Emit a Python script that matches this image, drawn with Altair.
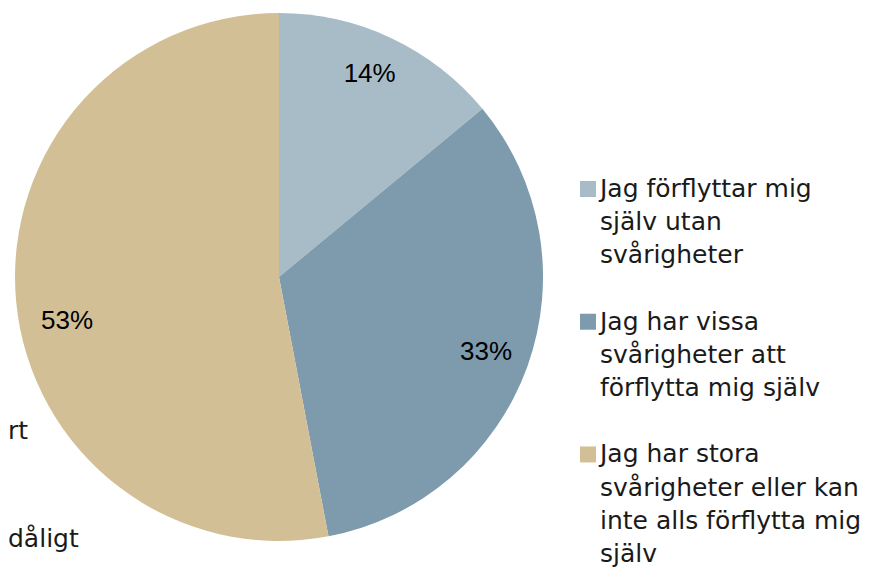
import altair as alt
import pandas as pd

categories = [
    "Jag förflyttar mig själv utan svårigheter",
    "Jag har vissa svårigheter att förflytta mig själv",
    "Jag har stora svårigheter eller kan inte alls förflytta mig själv",
]
values = [14, 33, 53]
labels = ["14%", "33%", "53%"]
colors = ["#A7BCC7", "#7D9BAC", "#D3BF95"]

legend_lines = [
    ["Jag förflyttar mig", "själv utan", "svårigheter"],
    ["Jag har vissa", "svårigheter att", "förflytta mig själv"],
    ["Jag har stora", "svårigheter eller kan", "inte alls förflytta mig", "själv"],
]
side_texts = ["rt", "dåligt"]
side_rows = [7.29, 10.54]

df = pd.DataFrame({"cat": categories, "val": values, "label": labels, "order": [0, 1, 2]})

rows = []
r = 0
for i, lines in enumerate(legend_lines):
    for j, t in enumerate(lines):
        rows.append({"row": r, "text": t, "first": j == 0, "cat": categories[i]})
        r += 1
    r += 1
leg = pd.DataFrame(rows)
leg_sym = leg[leg["first"]]

CX, CY, R = 271, 269, 264

color_scale = alt.Scale(domain=categories, range=colors)
theta_scale = alt.Scale(domain=[0, 100])

base = alt.Chart(df)

pie = base.mark_arc(radius=R, stroke=None).encode(
    theta=alt.Theta("val:Q", stack=True, scale=theta_scale),
    order=alt.Order("order:Q"),
    color=alt.Color("cat:N", scale=color_scale, legend=None),
    x=alt.value(CX),
    y=alt.value(CY),
)

def label_layer(lbl, dx, dy):
    return base.mark_text(
        radius=220, font="Liberation Sans", fontSize=26, color="#000000", dx=dx, dy=dy
    ).encode(
        theta=alt.Theta("val:Q", stack=True, scale=theta_scale),
        order=alt.Order("order:Q"),
        text=alt.condition(alt.datum.label == lbl, "label:N", alt.value("")),
        x=alt.value(CX),
        y=alt.value(CY),
    )

t14 = label_layer("14%", -3, -4)
t33 = label_layer("33%", 0, 0)
t53 = label_layer("53%", 7, 23)

yscale = alt.Scale(domain=[0, 11], range=[181, 546])

leg_text = alt.Chart(leg).mark_text(
    align="left", baseline="middle", font="DejaVu Sans", fontSize=25, color="#1a1a1a"
).encode(
    x=alt.value(592),
    y=alt.Y("row:Q", scale=yscale, axis=None),
    text="text:N",
)

leg_sq = alt.Chart(leg_sym).mark_square(size=256, opacity=1).encode(
    x=alt.value(580),
    y=alt.Y("row:Q", scale=yscale, axis=None),
    color=alt.Color("cat:N", scale=color_scale, legend=None),
)

side_df = pd.DataFrame({"text": side_texts, "row": side_rows})
side = alt.Chart(side_df).mark_text(
    align="left", baseline="middle", font="DejaVu Sans", fontSize=25, color="#1a1a1a"
).encode(
    x=alt.value(0),
    y=alt.Y("row:Q", scale=yscale, axis=None),
    text="text:N",
)

chart = alt.layer(pie, t14, t33, t53, leg_sq, leg_text, side).properties(
    width=861, height=559, padding=0, autosize=alt.AutoSizeParams(type="none")
).configure_view(stroke=None)

chart.save("out.html", embed_options={"renderer": "svg", "actions": False})
